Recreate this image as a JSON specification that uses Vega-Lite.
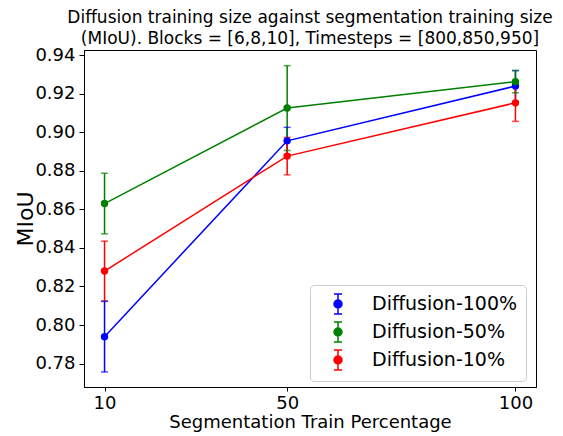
{
  "$schema": "https://vega.github.io/schema/vega-lite/v6.json",
  "autosize": {"type": "none"},
  "width": 452,
  "height": 337,
  "padding": {"left": 84, "top": 50, "right": 27, "bottom": 49},
  "background": "white",
  "config": {
    "font": "DejaVu Sans",
    "view": {"stroke": "black", "strokeWidth": 1},
    "axis": {"grid": false, "domainColor": "black", "tickColor": "black", "labelColor": "black", "titleColor": "black", "titleFontWeight": "normal", "tickSize": 5, "labelFont": "DejaVu Sans", "titleFont": "DejaVu Sans"}
  },
  "title": {
    "text": ["Diffusion training size against segmentation training size", "(MIoU). Blocks = [6,8,10], Timesteps = [800,850,950]"],
    "fontSize": 17,
    "fontWeight": "normal",
    "font": "DejaVu Sans",
    "color": "black",
    "anchor": "middle",
    "lineHeight": 21,
    "offset": -2
  },
  "data": {
    "values": [
      {"pct": 10, "series": "Diffusion-100%", "mean": 0.794, "lo": 0.7757, "hi": 0.8123},
      {"pct": 50, "series": "Diffusion-100%", "mean": 0.8955, "lo": 0.8885, "hi": 0.9025},
      {"pct": 100, "series": "Diffusion-100%", "mean": 0.9239, "lo": 0.9159, "hi": 0.9319},
      {"pct": 10, "series": "Diffusion-50%", "mean": 0.863, "lo": 0.8473, "hi": 0.8787},
      {"pct": 50, "series": "Diffusion-50%", "mean": 0.9125, "lo": 0.8905, "hi": 0.9345},
      {"pct": 100, "series": "Diffusion-50%", "mean": 0.9262, "lo": 0.9204, "hi": 0.932},
      {"pct": 10, "series": "Diffusion-10%", "mean": 0.828, "lo": 0.8125, "hi": 0.8435},
      {"pct": 50, "series": "Diffusion-10%", "mean": 0.8876, "lo": 0.8779, "hi": 0.8973},
      {"pct": 100, "series": "Diffusion-10%", "mean": 0.9152, "lo": 0.9056, "hi": 0.9248}
    ]
  },
  "encoding": {
    "x": {
      "field": "pct", "type": "quantitative",
      "scale": {"domain": [5.5, 104.5], "nice": false, "zero": false},
      "axis": {"values": [10, 50, 100], "format": "d", "labelFontSize": 18, "title": "Segmentation Train Percentage", "titleFontSize": 18, "tickSize": 4, "labelPadding": 3, "titlePadding": 1}
    },
    "color": {
      "field": "series", "type": "nominal",
      "scale": {"domain": ["Diffusion-100%", "Diffusion-50%", "Diffusion-10%"], "range": ["#0000ff", "#008000", "#ff0000"]},
      "legend": {
        "title": null,
        "orient": "none",
        "legendX": 226,
        "legendY": 235,
        "padding": 8,
        "rowPadding": 2,
        "symbolType": "M0,-1V1M-0.4,-1H0.4M-0.4,1H0.4M0.4,0A0.4,0.4,0,1,1,-0.4,0A0.4,0.4,0,1,1,0.4,0Z",
        "symbolSize": 400,
        "symbolStrokeWidth": 1.5,
        "symbolOffset": 9,
        "labelOffset": 23,
        "labelFontSize": 19,
        "labelFont": "DejaVu Sans",
        "labelColor": "black",
        "strokeColor": "#cccccc",
        "fillColor": "rgba(255,255,255,0.8)",
        "cornerRadius": 4,
        "labelLimit": 300,
        "encode": {
          "symbols": {"update": {"fill": {"scale": "color", "field": "value"}, "stroke": {"scale": "color", "field": "value"}, "opacity": {"value": 1}, "fillOpacity": {"value": 1}, "strokeOpacity": {"value": 1}}}
        }
      }
    }
  },
  "layer": [
    {
      "mark": {"type": "rule", "strokeWidth": 1.5},
      "encoding": {
        "y": {"field": "lo", "type": "quantitative", "scale": {"domain": [0.7679, 0.9426], "nice": false, "zero": false},
          "axis": {"values": [0.78, 0.8, 0.82, 0.84, 0.86, 0.88, 0.9, 0.92, 0.94], "format": ".2f", "labelFontSize": 18, "title": "MIoU", "titleFontSize": 22, "labelPadding": 4, "titlePadding": -3}},
        "y2": {"field": "hi"}
      }
    },
    {
      "mark": {"type": "tick", "orient": "horizontal", "size": 7, "thickness": 1.5},
      "encoding": {"y": {"field": "lo", "type": "quantitative"}}
    },
    {
      "mark": {"type": "tick", "orient": "horizontal", "size": 7, "thickness": 1.5},
      "encoding": {"y": {"field": "hi", "type": "quantitative"}}
    },
    {
      "mark": {"type": "line", "strokeWidth": 1.5},
      "encoding": {"y": {"field": "mean", "type": "quantitative"}}
    },
    {
      "mark": {"type": "point", "filled": true, "size": 55, "opacity": 1, "shape": "circle"},
      "encoding": {"y": {"field": "mean", "type": "quantitative"}}
    }
  ]
}
